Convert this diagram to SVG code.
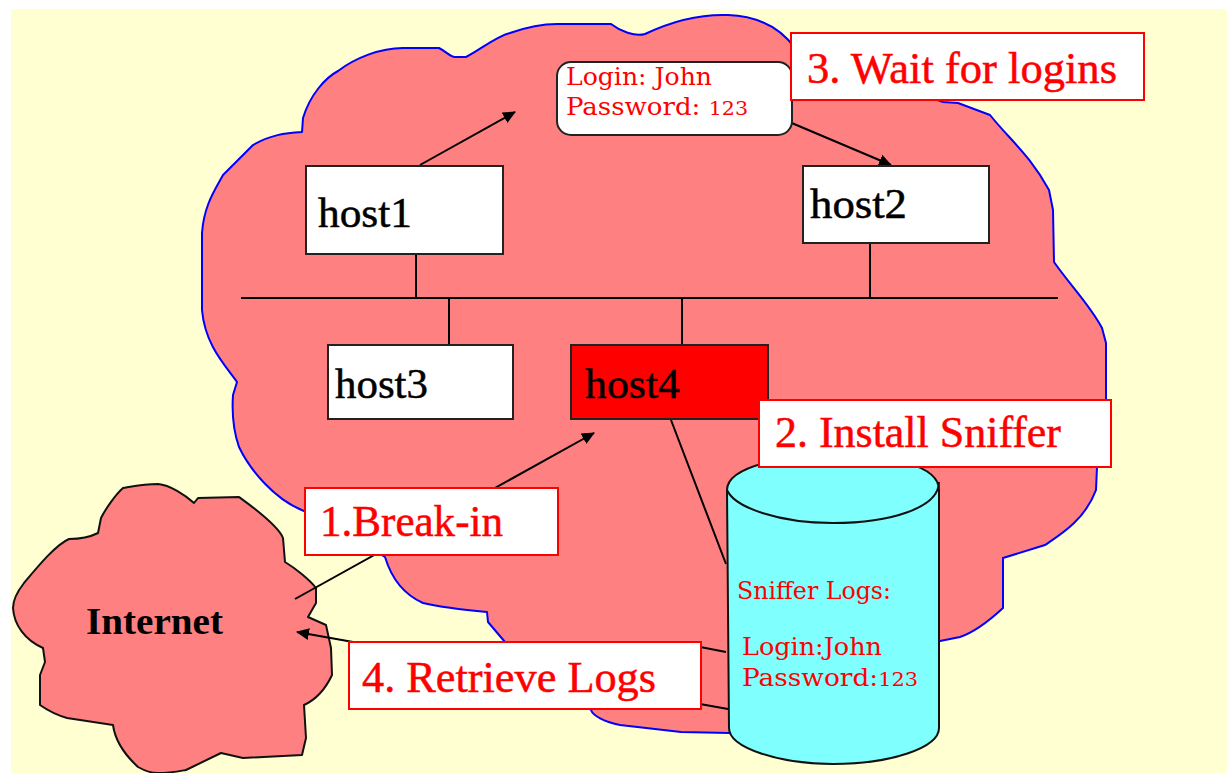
<svg xmlns="http://www.w3.org/2000/svg" width="1227" height="773" viewBox="0 0 1227 773">
<defs>
<marker id="arrow" markerUnits="userSpaceOnUse" markerWidth="14" markerHeight="14" refX="12" refY="7" orient="auto"><path d="M0 1L13 7L0 13Z" fill="#000"/></marker>
</defs>
<style>
.cloud{fill:#ff8080;stroke-width:2;stroke-linejoin:round}
.box{fill:#fff;stroke:#222;stroke-width:2}
.label{fill:#fff;stroke:#ff0000;stroke-width:2}
.wire{stroke:#000;stroke-width:2;fill:none}
.arrow{stroke:#000;stroke-width:2;fill:none;marker-end:url(#arrow)}
text{font-family:"Liberation Serif","Times New Roman",serif}
.host{font-size:43px;fill:#000;stroke:#000;stroke-width:.5}
.step{font-size:44px;fill:#ff0000;stroke:#ff0000;stroke-width:.5}
.small{font-family:"DejaVu Serif","Liberation Serif",serif;font-size:24px;fill:#ff0000}
.num{font-size:19px}
</style>
<rect x="0" y="0" width="1227" height="773" fill="#fff"/>
<rect x="11" y="9" width="1216" height="764" fill="#ffffd2"/>
<g id="network-cloud"><path class="cloud" stroke="#0000ff" d="M645 34C670 22 700 14 728 15C755 16 778 25 795 48L943 102L958 103L990 115C1010 140 1030 155 1049 190L1053 210L1054 262C1070 285 1090 305 1102 328L1106 343L1106 400L1097 467L1096 490C1085 520 1060 535 1045 545L1003 558L1003 608C990 620 975 632 960 637L940 641L729 733L681 732L620 725C605 722 593 716 591 710L505 642L488 622L487 612C465 610 440 607 423 603C405 595 392 580 385 557L304 511C275 500 250 470 239 447C233 430 232 410 233 395L237 382C225 365 205 345 202 310L202 233C204 205 215 190 223 175L253 145C270 135 285 133 302 132L303 118C310 95 325 78 338 71C355 58 380 48 403 48L439 48C447 52 450 57 455 57L466 57C480 50 495 37 510 33C530 26 545 24 557 24L611 24C620 31 635 37 645 34Z"/></g>
<g id="internet"><path class="cloud" stroke="#111" d="M158 484C145 484 135 486 123 488C115 495 105 510 101 518L98 533C90 537 80 539 69 539C55 545 35 570 24 583C17 592 13 600 13 608C14 625 25 640 43 648L45 662L40 675L40 705C50 712 60 716 67 718L113 725C115 740 125 755 138 767C145 771 150 773 158 773C170 773 180 771 186 770L221 753L243 758L302 755L306 738L304 705C315 700 325 690 332 675L331 648L326 625L308 617L316 603L316 588C310 580 295 568 285 562L283 538C278 525 250 505 239 497L198 498L194 503C185 495 170 485 158 484Z"/>
<text x="86" y="634" font-size="38" font-weight="bold" fill="#000" textLength="137" lengthAdjust="spacingAndGlyphs">Internet</text></g>
<g id="connectors">
<path class="wire" d="M241 298H1058M416 254V298M449 298V345M682 298V345M870 243V298M671 420L726 564M726 652L690 645"/>
<path class="arrow" d="M420 165L515 112"/>
<path class="arrow" d="M787 121L891 165"/>
<path class="arrow" d="M295 599L594 433"/>
<path class="arrow" d="M728 709L297 632"/>
</g>
<g id="host1"><rect class="box" x="306" y="166" width="197" height="88"/><text class="host" x="318" y="227" textLength="94" lengthAdjust="spacingAndGlyphs">host1</text></g>
<g id="host2"><rect class="box" x="803" y="166" width="186" height="77"/><text class="host" x="810" y="218" textLength="97" lengthAdjust="spacingAndGlyphs">host2</text></g>
<g id="host3"><rect class="box" x="328" y="345" width="185" height="74"/><text class="host" x="335" y="398" textLength="93" lengthAdjust="spacingAndGlyphs">host3</text></g>
<g id="host4"><rect class="box" x="571" y="345" width="197" height="74" style="fill:#ff0000"/><text class="host" x="585" y="398" textLength="95" lengthAdjust="spacingAndGlyphs">host4</text></g>
<g id="login-note"><rect class="box" x="557" y="62" width="235" height="73" rx="14"/>
<text class="small" x="566" y="85" textLength="146" lengthAdjust="spacingAndGlyphs">Login: John</text>
<text class="small" x="566" y="115" textLength="182" lengthAdjust="spacingAndGlyphs">Password: <tspan class="num">123</tspan></text></g>
<g id="sniffer-logs"><path d="M727 490C727 465 790 455 833 455C890 455 939 465 939 490V728C939 748 890 764 833 764C780 764 729 748 729 728Z" fill="#80ffff" stroke="#111" stroke-width="2"/>
<path d="M727 490C735 508 780 523 833 523C890 523 939 508 939 482" fill="none" stroke="#111" stroke-width="2"/>
<text class="small" x="737" y="599" textLength="154" lengthAdjust="spacingAndGlyphs">Sniffer Logs:</text>
<text class="small" x="742" y="655" textLength="140" lengthAdjust="spacingAndGlyphs">Login:John</text>
<text class="small" x="742" y="686" textLength="176" lengthAdjust="spacingAndGlyphs">Password:<tspan class="num">123</tspan></text></g>
<g id="step1"><rect class="label" x="305" y="488" width="253" height="67"/><text class="step" x="320" y="536" textLength="183" lengthAdjust="spacingAndGlyphs">1.Break-in</text></g>
<g id="step2"><rect class="label" x="759" y="400" width="352" height="67"/><text class="step" x="775" y="447" textLength="286" lengthAdjust="spacingAndGlyphs">2. Install Sniffer</text></g>
<g id="step3"><rect class="label" x="791" y="33" width="353" height="67"/><text class="step" x="807" y="83" textLength="310" lengthAdjust="spacingAndGlyphs">3. Wait for logins</text></g>
<g id="step4"><rect class="label" x="349" y="642" width="352" height="67"/><text class="step" x="362" y="692" textLength="294" lengthAdjust="spacingAndGlyphs">4. Retrieve Logs</text></g>
</svg>
